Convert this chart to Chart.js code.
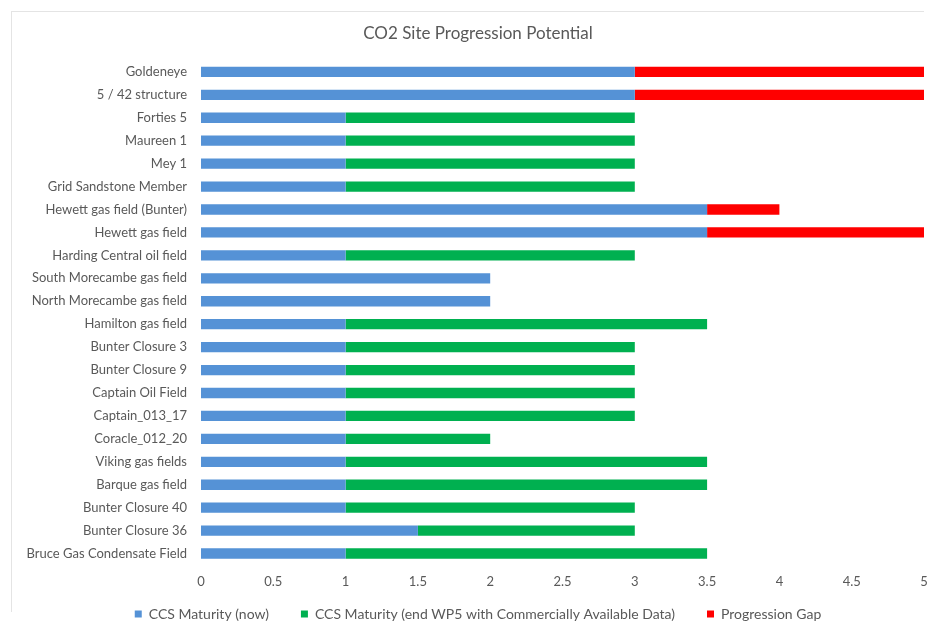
<!DOCTYPE html>
<html>
<head>
<meta charset="utf-8">
<title>CO2 Site Progression Potential</title>
<script src="https://cdn.jsdelivr.net/npm/chart.js@4/dist/chart.umd.min.js"></script>
<style>
  html, body { margin: 0; padding: 0; background: #ffffff; }
  #wrap { position: relative; width: 932px; height: 630px; }
  #frame { position: absolute; left: 11px; top: 11px; width: 912px; height: 600px;
           border-top: 1px solid #e4e4e4; border-left: 1px solid #e4e4e4; pointer-events: none; }
  canvas { display: block; }
</style>
</head>
<body>
<div id="wrap">
  <canvas id="chart" width="932" height="630"></canvas>
  <div id="frame"></div>
</div>
<script>
// Storage sites, listed top to bottom
const sites = [
  "Goldeneye",
  "5 / 42 structure",
  "Forties 5",
  "Maureen 1",
  "Mey 1",
  "Grid Sandstone Member",
  "Hewett gas field (Bunter)",
  "Hewett gas field",
  "Harding Central oil field",
  "South Morecambe gas field",
  "North Morecambe gas field",
  "Hamilton gas field",
  "Bunter Closure 3",
  "Bunter Closure 9",
  "Captain Oil Field",
  "Captain_013_17",
  "Coracle_012_20",
  "Viking gas fields",
  "Barque gas field",
  "Bunter Closure 40",
  "Bunter Closure 36",
  "Bruce Gas Condensate Field"
];

// Current CCS maturity
const maturityNow = [3, 3, 1, 1, 1, 1, 3.5, 3.5, 1, 2, 2, 1, 1, 1, 1, 1, 1, 1, 1, 1, 1.5, 1];

// Added maturity by end of WP5 with commercially available data
const maturityWP5 = [0, 0, 2, 2, 2, 2, 0, 0, 2, 0, 0, 2.5, 2, 2, 2, 2, 1, 2.5, 2.5, 2, 1.5, 2.5];

// Remaining progression gap
const progressionGap = [2, 2, 0, 0, 0, 0, 0.5, 1.5, 0, 0, 0, 0, 0, 0, 0, 0, 0, 0, 0, 0, 0, 0];

// Value axis ticks
const tickValues = [0, 0.5, 1, 1.5, 2, 2.5, 3, 3.5, 4, 4.5, 5];

const textColor = "#595959";
const fontFamily = "Lato, 'Open Sans', 'Liberation Sans', sans-serif";

// Nudges the title and legend boxes after layout: the legend keeps wide
// gaps between its items while sitting close under the value axis.
const boxNudge = {
  id: "boxNudge",
  afterLayout(chart) {
    const lg = chart.legend;
    if (lg) {
      lg.top -= 18;
      lg.height = lg.bottom - lg.top;
      lg.left += 7; lg.right += 7;
    }
    const tb = chart.titleBlock;
    if (tb) { tb.left += 7; tb.right += 7; }
  }
};

new Chart(document.getElementById("chart"), {
  type: "bar",
  data: {
    labels: sites,
    datasets: [
      { label: "CCS Maturity (now)", data: maturityNow, backgroundColor: "#5592d6" },
      { label: "CCS Maturity (end WP5 with Commercially Available Data)", data: maturityWP5, backgroundColor: "#00b050" },
      { label: "Progression Gap", data: progressionGap, backgroundColor: "#ff0000" }
    ]
  },
  plugins: [boxNudge],
  options: {
    indexAxis: "y",
    responsive: false,
    animation: false,
    devicePixelRatio: 1,
    datasets: { bar: { categoryPercentage: 1, barPercentage: 0.45, borderWidth: 0 } },
    layout: { padding: { left: 12, right: 2, top: 12, bottom: 0 } },
    plugins: {
      title: {
        display: true,
        text: "CO2 Site Progression Potential",
        color: textColor,
        font: { family: fontFamily, size: 17, weight: "normal" },
        padding: { top: 11, bottom: 17 }
      },
      legend: {
        position: "bottom",
        maxHeight: 37,
        labels: {
          color: textColor,
          font: { family: fontFamily, size: 14 },
          boxWidth: 7,
          boxHeight: 7,
          padding: 32
        }
      },
      tooltip: { enabled: false }
    },
    scales: {
      x: {
        stacked: true,
        min: 0,
        max: 5,
        afterBuildTicks: (scale) => { scale.ticks = tickValues.map(v => ({ value: v })); },
        afterFit: (scale) => { scale.height = 28; scale.paddingRight = 8; },
        grid: { display: false, drawTicks: false },
        border: { display: false },
        ticks: {
          color: textColor,
          font: { family: fontFamily, size: 13 },
          padding: 9,
          maxRotation: 0,
          callback: (v) => String(v)
        }
      },
      y: {
        stacked: true,
        afterFit: (scale) => { scale.width = 189; },
        grid: { display: false, drawTicks: false },
        border: { display: false },
        ticks: {
          color: textColor,
          font: { family: fontFamily, size: 13 },
          padding: 14,
          autoSkip: false
        }
      }
    }
  }
});
</script>
</body>
</html>
